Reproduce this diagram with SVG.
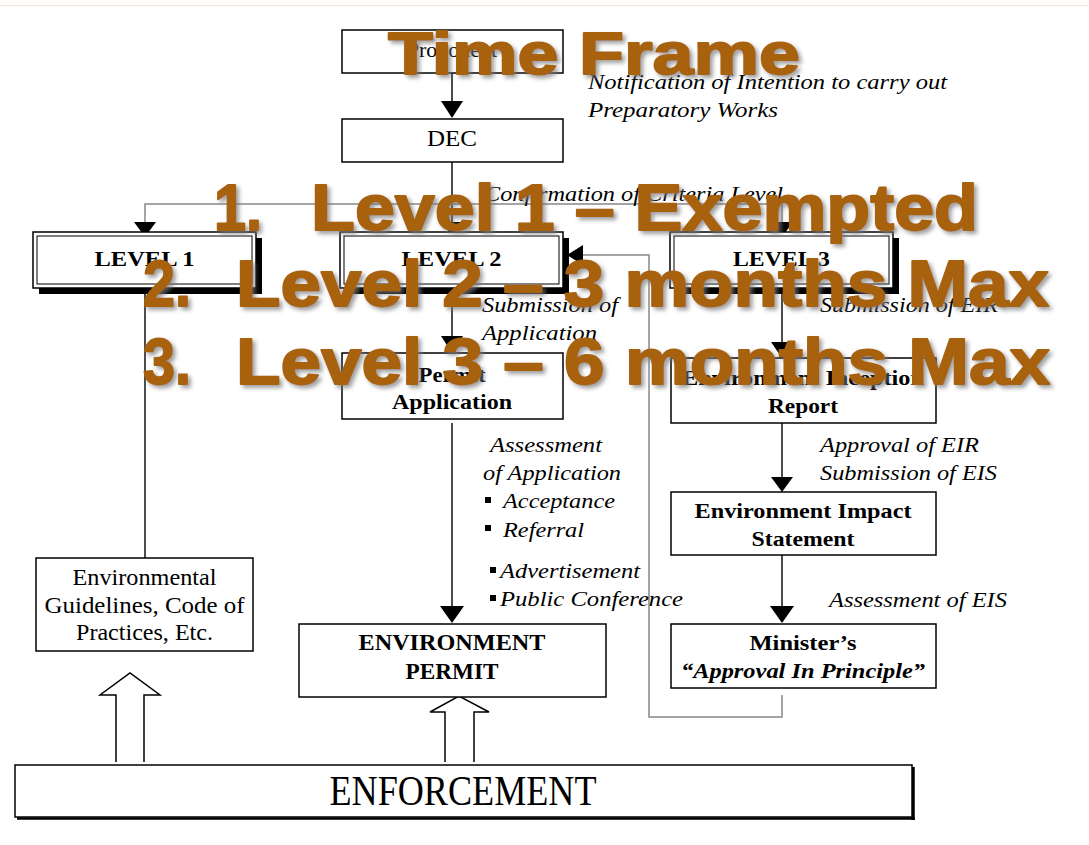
<svg xmlns="http://www.w3.org/2000/svg" width="1089" height="845" viewBox="0 0 1089 845">
<defs>
<style>
.box{fill:#fff;stroke:#000;stroke-width:1.5}
.ln{fill:none;stroke:#111;stroke-width:1.5}
.gl{fill:none;stroke:#888;stroke-width:1.5}
.ah{fill:#000}
.t{font-family:"Liberation Serif","Times New Roman",serif;font-size:21px;fill:#000}
.c{text-anchor:middle}
.b{font-weight:bold}
.i{font-style:italic}
.ov{font-family:"Liberation Sans",Arial,sans-serif;font-weight:bold;fill:#A8620F;stroke:#A8620F;stroke-width:1.8;stroke-linejoin:round;filter:url(#sh)}
</style>
<filter id="sh" x="-5%" y="-20%" width="110%" height="140%">
<feDropShadow dx="3" dy="3" stdDeviation="2" flood-color="#777" flood-opacity="0.7"/>
</filter>
</defs>
<rect x="0" y="0" width="1089" height="845" fill="#fff"/>
<line x1="0" y1="5.5" x2="1089" y2="5.5" stroke="#f3e4da" stroke-width="1"/>

<g id="connectors">
<line class="ln" x1="452" y1="73" x2="452" y2="102"/>
<polygon class="ah" points="441,101 463,101 452,118"/>
<line class="ln" x1="452" y1="162" x2="452" y2="222"/>
<polygon class="ah" points="442,222 462,222 452,236"/>
<polyline class="gl" points="145,223 145,204 782,204 782,223"/>
<polygon class="ah" points="134,222 156,222 145,237"/>
<polygon class="ah" points="771,222 793,222 782,237"/>
<line class="ln" x1="145" y1="294" x2="145" y2="558" stroke="#333"/>
<line class="ln" x1="452" y1="294" x2="452" y2="337"/>
<polygon class="ah" points="441,336 463,336 452,353"/>
<line class="ln" x1="452" y1="423" x2="452" y2="607"/>
<polygon class="ah" points="440,606 464,606 452,623"/>
<line class="ln" x1="782" y1="294" x2="782" y2="343"/>
<polygon class="ah" points="771,342 793,342 782,358"/>
<line class="ln" x1="782" y1="423" x2="782" y2="478"/>
<polygon class="ah" points="771,477 793,477 782,492"/>
<line class="ln" x1="782" y1="555" x2="782" y2="607"/>
<polygon class="ah" points="770,606 794,606 782,623"/>
<polyline class="gl" points="782,695 782,717 649,717 649,255 583,255" stroke="#777"/>
<polygon class="ah" points="583,245 583,265 567,255"/>
<path d="M116,762 L116,695 L100,695 L130,673 L160,695 L144,695 L144,762" fill="#fff" stroke="#000" stroke-width="1.5"/>
<path d="M445,762 L445,712 L430,712 L459,696 L489,712 L474,712 L474,762" fill="#fff" stroke="#000" stroke-width="1.5"/>
</g>

<g id="proponent">
<rect class="box" x="342" y="30" width="221" height="43"/>
<text class="t c" x="452" y="57" style="font-size:22px">Proponent</text>
</g>
<g id="dec">
<rect class="box" x="342" y="119" width="221" height="43"/>
<text class="t c" x="452" y="146" style="font-size:23px" textLength="50" lengthAdjust="spacingAndGlyphs">DEC</text>
</g>

<g id="level1">
<rect x="39" y="238" width="223" height="56" fill="#000"/>
<rect class="box" x="33" y="232" width="223" height="56"/>
<rect x="37" y="236" width="215" height="48" fill="none" stroke="#000" stroke-width="1"/>
<text class="t c b" x="144.5" y="266" textLength="100" lengthAdjust="spacingAndGlyphs">LEVEL 1</text>
</g>
<g id="level2">
<rect x="346" y="238" width="223" height="56" fill="#000"/>
<rect class="box" x="340" y="232" width="223" height="56"/>
<rect x="344" y="236" width="215" height="48" fill="none" stroke="#000" stroke-width="1"/>
<text class="t c b" x="451.5" y="266" textLength="100" lengthAdjust="spacingAndGlyphs">LEVEL 2</text>
</g>
<g id="level3">
<rect x="676" y="238" width="223" height="56" fill="#000"/>
<rect class="box" x="670" y="232" width="223" height="56"/>
<rect x="674" y="236" width="215" height="48" fill="none" stroke="#000" stroke-width="1"/>
<text class="t c b" x="781.5" y="266" textLength="97" lengthAdjust="spacingAndGlyphs">LEVEL 3</text>
</g>

<g id="permit-application">
<rect class="box" x="342" y="353" width="221" height="66"/>
<text class="t c b" x="452" y="382" textLength="67" lengthAdjust="spacingAndGlyphs">Permit</text>
<text class="t c b" x="452" y="409" textLength="120" lengthAdjust="spacingAndGlyphs">Application</text>
</g>
<g id="eir">
<rect class="box" x="671" y="358" width="265" height="65"/>
<text class="t c b" x="803" y="385" textLength="242" lengthAdjust="spacingAndGlyphs">Environment Inception</text>
<text class="t c b" x="803" y="413" textLength="70" lengthAdjust="spacingAndGlyphs">Report</text>
</g>
<g id="eis">
<rect class="box" x="671" y="492" width="265" height="63"/>
<text class="t c b" x="803" y="518" textLength="217" lengthAdjust="spacingAndGlyphs">Environment Impact</text>
<text class="t c b" x="803" y="546" textLength="103" lengthAdjust="spacingAndGlyphs">Statement</text>
</g>
<g id="minister">
<rect class="box" x="671" y="624" width="265" height="64"/>
<text class="t c b" x="803" y="650" textLength="107" lengthAdjust="spacingAndGlyphs">Minister’s</text>
<text class="t c b i" x="803" y="678" textLength="244" lengthAdjust="spacingAndGlyphs">“Approval In Principle”</text>
</g>
<g id="env-guidelines">
<rect class="box" x="36" y="558" width="217" height="93"/>
<text class="t c" x="144.5" y="585" style="font-size:23px" textLength="144" lengthAdjust="spacingAndGlyphs">Environmental</text>
<text class="t c" x="144.5" y="613" style="font-size:23px" textLength="200" lengthAdjust="spacingAndGlyphs">Guidelines, Code of</text>
<text class="t c" x="144.5" y="640" style="font-size:23px" textLength="137" lengthAdjust="spacingAndGlyphs">Practices, Etc.</text>
</g>
<g id="env-permit">
<rect class="box" x="299" y="624" width="307" height="73"/>
<text class="t c b" x="452" y="650" style="font-size:23px" textLength="187" lengthAdjust="spacingAndGlyphs">ENVIRONMENT</text>
<text class="t c b" x="452" y="679" style="font-size:23px" textLength="93" lengthAdjust="spacingAndGlyphs">PERMIT</text>
</g>
<g id="enforcement">
<line x1="913" y1="767" x2="913" y2="820" stroke="#000" stroke-width="3.5"/>
<line x1="17" y1="818.5" x2="915" y2="818.5" stroke="#000" stroke-width="2.5"/>
<rect x="15" y="765" width="897" height="52" fill="#fff" stroke="#000" stroke-width="1.5"/>
<text class="t c" x="463" y="805" style="font-size:43px" textLength="267" lengthAdjust="spacingAndGlyphs">ENFORCEMENT</text>
</g>

<g id="labels" class="t i">
<text x="588" y="89" textLength="359" lengthAdjust="spacingAndGlyphs">Notification of Intention to carry out</text>
<text x="588" y="117" textLength="190" lengthAdjust="spacingAndGlyphs">Preparatory Works</text>
<text x="484" y="201" textLength="299" lengthAdjust="spacingAndGlyphs">Confirmation of Criteria Level</text>
<text x="482" y="312" textLength="136" lengthAdjust="spacingAndGlyphs">Submission of</text>
<text x="482" y="340" textLength="115" lengthAdjust="spacingAndGlyphs">Application</text>
<text x="820" y="312" textLength="178" lengthAdjust="spacingAndGlyphs">Submission of EIR</text>
<text x="490" y="452" textLength="112" lengthAdjust="spacingAndGlyphs">Assessment</text>
<text x="483" y="480" textLength="138" lengthAdjust="spacingAndGlyphs">of Application</text>
<text x="503" y="508" textLength="112" lengthAdjust="spacingAndGlyphs">Acceptance</text>
<text x="503" y="537" textLength="81" lengthAdjust="spacingAndGlyphs">Referral</text>
<text x="500" y="578" textLength="140" lengthAdjust="spacingAndGlyphs">Advertisement</text>
<text x="500" y="606" textLength="183" lengthAdjust="spacingAndGlyphs">Public Conference</text>
<text x="820" y="452" textLength="159" lengthAdjust="spacingAndGlyphs">Approval of EIR</text>
<text x="820" y="480" textLength="177" lengthAdjust="spacingAndGlyphs">Submission of EIS</text>
<text x="829" y="607" textLength="178" lengthAdjust="spacingAndGlyphs">Assessment of EIS</text>
</g>
<g id="bullets" fill="#000">
<rect x="485" y="497" width="6" height="6"/>
<rect x="485" y="525" width="6" height="6"/>
<rect x="490" y="567" width="6" height="6"/>
<rect x="490" y="595" width="6" height="6"/>
</g>

<g id="overlay" class="ov">
<text x="388" y="74" font-size="60" textLength="412" lengthAdjust="spacingAndGlyphs">Time Frame</text>
<text x="214" y="230" font-size="64" textLength="48" lengthAdjust="spacingAndGlyphs">1.</text>
<text x="311" y="230" font-size="64" textLength="667" lengthAdjust="spacingAndGlyphs">Level 1 – Exempted</text>
<text x="143" y="306" font-size="64" textLength="48" lengthAdjust="spacingAndGlyphs">2.</text>
<text x="236" y="306" font-size="64" textLength="813" lengthAdjust="spacingAndGlyphs">Level 2 – 3 months Max</text>
<text x="143" y="384" font-size="64" textLength="48" lengthAdjust="spacingAndGlyphs">3.</text>
<text x="236" y="384" font-size="64" textLength="814" lengthAdjust="spacingAndGlyphs">Level 3 – 6 months Max</text>
</g>
</svg>
